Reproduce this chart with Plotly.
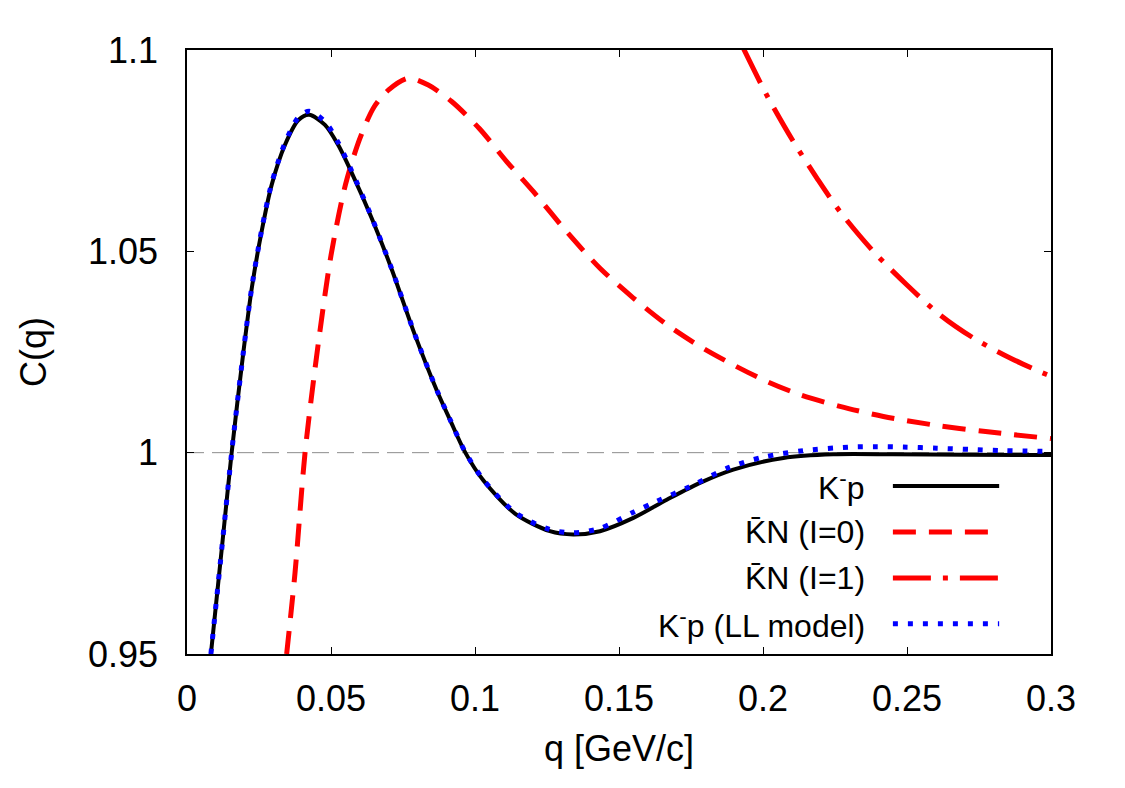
import plotly.graph_objects as go

# ---------------- data ----------------
q_kp = [0.0083, 0.0124, 0.0155, 0.0196, 0.0225, 0.0259, 0.0294, 0.0340, 0.0387, 0.0424,
        0.0479, 0.0525, 0.0572, 0.0641, 0.0711, 0.0790, 0.0867, 0.0913, 0.0965, 0.1030,
        0.1140, 0.1260, 0.1341, 0.1434, 0.1550, 0.1666, 0.1781, 0.1897, 0.2071, 0.2244,
        0.2450, 0.2700, 0.3000]
c_kp = [0.9500, 0.9784, 1.0000, 1.0251, 1.0409, 1.0549, 1.0665, 1.0764, 1.0826, 1.0839,
        1.0814, 1.0764, 1.0695, 1.0583, 1.0455, 1.0295, 1.0155, 1.0082, 1.0002, 0.9930,
        0.9848, 0.9805, 0.9797, 0.9805, 0.9838, 0.9883, 0.9925, 0.9958, 0.9987, 0.9996,
        0.9996, 0.9995, 0.9994]

q_i0 = [0.0346, 0.0375, 0.0410, 0.0456, 0.0500, 0.0550, 0.0600, 0.0650, 0.0700, 0.0768,
        0.0838, 0.0919, 0.1015, 0.1110, 0.1203, 0.1318, 0.1434, 0.1550, 0.1666, 0.1781,
        0.1897, 0.2013, 0.2128, 0.2267, 0.2418, 0.2591, 0.2765, 0.3000]
c_i0 = [0.9500, 0.9701, 1.0001, 1.0272, 1.0490, 1.0665, 1.0780, 1.0859, 1.0901, 1.0930,
        1.0913, 1.0872, 1.0805, 1.0723, 1.0648, 1.0549, 1.0458, 1.0384, 1.0318, 1.0264,
        1.0218, 1.0177, 1.0144, 1.0115, 1.0090, 1.0069, 1.0053, 1.0035]

q_i1 = [0.1932, 0.2013, 0.2106, 0.2187, 0.2267, 0.2383, 0.2499, 0.2615, 0.2730, 0.2858,
        0.2985, 0.3000]
c_i1 = [1.1004, 1.0888, 1.0772, 1.0682, 1.0599, 1.0500, 1.0417, 1.0342, 1.0285, 1.0235,
        1.0194, 1.0190]

q_ll = [0.0083, 0.0124, 0.0155, 0.0196, 0.0225, 0.0259, 0.0294, 0.0340, 0.0387, 0.0424,
        0.0479, 0.0525, 0.0572, 0.0641, 0.0711, 0.0790, 0.0867, 0.0913, 0.0965, 0.1030,
        0.1140, 0.1260, 0.1341, 0.1434, 0.1550, 0.1631, 0.1747, 0.1885, 0.2001, 0.2141,
        0.2303, 0.2396, 0.2488, 0.2604, 0.2720, 0.2836, 0.3000]
c_ll = [0.9500, 0.9784, 1.0000, 1.0252, 1.0411, 1.0552, 1.0669, 1.0769, 1.0833, 1.0848,
        1.0822, 1.0770, 1.0699, 1.0585, 1.0456, 1.0296, 1.0156, 1.0083, 1.0003, 0.9932,
        0.9851, 0.9809, 0.9801, 0.9812, 0.9852, 0.9879, 0.9916, 0.9964, 0.9989, 1.0005,
        1.0014, 1.0015, 1.0014, 1.0011, 1.0008, 1.0005, 1.0003]

x_ticks = [0, 0.05, 0.1, 0.15, 0.2, 0.25, 0.3]
x_tick_labels = ["0", "0.05", "0.1", "0.15", "0.2", "0.25", "0.3"]
y_ticks = [0.95, 1.0, 1.05, 1.1]
y_tick_labels = ["0.95", "1", "1.05", "1.1"]

legend_names = ["K<sup>-</sup>p", "K\u0304N (I=0)", "K\u0304N (I=1)", "K<sup>-</sup>p (LL model)"]

# ---------------- figure ----------------
FONT = "Liberation Sans, Arial, Helvetica, sans-serif"
fig = go.Figure()

red = "#ff0000"
styles = [
    dict(color="black", width=4, dash="solid"),
    dict(color=red, width=5, dash="23px,13px"),
    dict(color=red, width=5, dash="38px,12px,5px,12px"),
    dict(color="#0000ff", width=5, dash="5px,10px"),
]

fig.add_trace(go.Scatter(x=q_i0, y=c_i0, mode="lines", line=dict(**styles[1], shape="spline", smoothing=0.8),
                         showlegend=False, hoverinfo="skip"))
fig.add_trace(go.Scatter(x=q_i1, y=c_i1, mode="lines", line=dict(**styles[2], shape="spline", smoothing=0.8),
                         showlegend=False, hoverinfo="skip"))
fig.add_trace(go.Scatter(x=q_kp, y=c_kp, mode="lines", line=dict(**styles[0], shape="spline", smoothing=0.8),
                         showlegend=False, hoverinfo="skip"))
fig.add_trace(go.Scatter(x=q_ll, y=c_ll, mode="lines", line=dict(**styles[3], shape="spline", smoothing=0.8),
                         showlegend=False, hoverinfo="skip"))

# reference line at C=1
fig.add_shape(type="line", xref="x", yref="y", x0=0, x1=0.3, y0=1, y1=1,
              line=dict(color="#8c8c8c", width=1, dash="17px,8px"), layer="below")

# manual gnuplot-style legend (text left, sample right)
row_y = [0.278, 0.202, 0.126, 0.050]
for name, st, yy in zip(legend_names, styles, row_y):
    fig.add_annotation(xref="paper", yref="paper", x=0.787, y=yy, text=name, showarrow=False,
                       xanchor="right", yanchor="middle", font=dict(size=32, color="black", family=FONT))
    fig.add_shape(type="line", xref="paper", yref="paper", x0=0.817, x1=0.940, y0=yy, y1=yy,
                  line=dict(color=st["color"], width=st["width"], dash=st["dash"]))

axis_common = dict(showline=True, linecolor="black", linewidth=1.5, mirror="ticks",
                   ticks="inside", ticklen=7, tickwidth=1, tickcolor="black",
                   showgrid=False, zeroline=False,
                   tickfont=dict(size=36, color="black", family=FONT))

fig.update_xaxes(range=[0, 0.3], tickvals=x_ticks, ticktext=x_tick_labels,
                 ticklabelstandoff=12,
                 title=dict(text="q [GeV/c]", font=dict(size=36, color="black", family=FONT), standoff=18),
                 **axis_common)
fig.update_yaxes(range=[0.95, 1.1], tickvals=y_ticks, ticktext=y_tick_labels,
                 ticklabelstandoff=20,
                 title=dict(text="C(q)", font=dict(size=36, color="black", family=FONT), standoff=30),
                 **axis_common)

fig.update_layout(width=1125, height=788, margin=dict(l=187, r=74, t=50, b=134),
                  paper_bgcolor="white", plot_bgcolor="white", showlegend=False,
                  font=dict(family=FONT, color="black"))

fig.write_html("out.html")
